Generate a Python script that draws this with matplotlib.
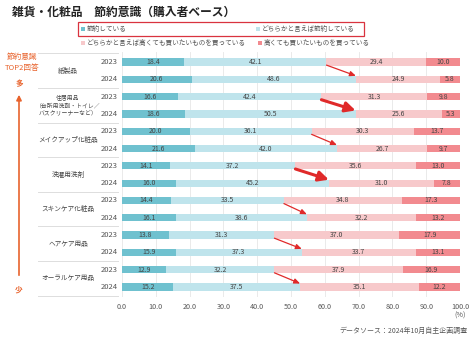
import matplotlib
matplotlib.use("Agg")
import matplotlib.pyplot as plt
from matplotlib.transforms import blended_transform_factory
from matplotlib.patches import Rectangle
import numpy as np

plt.rcParams['font.family'] = ['Noto Sans CJK JP', 'DejaVu Sans']

categories = ["紙製品", "住居用品\n（台所用洗剤・トイレ／\nバスクリーナーなど）", "メイクアップ化粧品",
              "洗濯用洗剤", "スキンケア化粧品", "ヘアケア用品", "オーラルケア用品"]
years = ["2023", "2024"]
series_names = ["節約している", "どちらかと言えば節約している",
                "どちらかと言えば高くても買いたいものを買っている", "高くても買いたいものを買っている"]
# values per category: [2023 row, 2024 row]
setsuyaku = [[18.4, 20.6], [16.6, 18.6], [20.0, 21.6], [14.1, 16.0], [14.4, 16.1], [13.8, 15.9], [12.9, 15.2]]
dochira_setsu = [[42.1, 48.6], [42.4, 50.5], [36.1, 42.0], [37.2, 45.2], [33.5, 38.6], [31.3, 37.3], [32.2, 37.5]]
dochira_takai = [[29.4, 24.9], [31.3, 25.6], [30.3, 26.7], [35.6, 31.0], [34.8, 32.2], [37.0, 33.7], [37.9, 35.1]]
takai = [[10.0, 5.8], [9.8, 5.3], [13.7, 9.7], [13.0, 7.8], [17.3, 13.2], [17.9, 13.1], [16.9, 12.2]]
thick_arrow = [False, True, False, True, False, False, False]
xticks = [0, 10, 20, 30, 40, 50, 60, 70, 80, 90, 100]

colors = ["#6fc1cf", "#bfe4ec", "#f7c9cb", "#f28a8f"]

W, H = 474, 340
fig = plt.figure(figsize=(W / 100, H / 100), dpi=100)

def fx(px):
    return px / W

def fy(py):
    return 1 - py / H

row_top_px, row_bot_px = 62, 287
n_rows = len(categories) * 2
step = (row_bot_px - row_top_px) / (n_rows - 1)
ax_top = row_top_px - 0.6 * step
ax_bot = row_bot_px + 0.6 * step
ax = fig.add_axes([fx(122), fy(ax_bot), fx(460) - fx(122), (ax_bot - ax_top) / H])

data = [setsuyaku, dochira_setsu, dochira_takai, takai]
for ci in range(len(categories)):
    for yi in range(2):
        r = ci * 2 + yi
        left = 0
        for si in range(4):
            v = data[si][ci][yi]
            ax.barh(r, v, left=left, height=0.42, color=colors[si], zorder=2)
            ax.text(left + v / 2, r, f"{v:.1f}", ha="center", va="center",
                    fontsize=5, color="#444444", zorder=3)
            left += v

# red arrows
for ci in range(len(categories)):
    s23 = setsuyaku[ci][0] + dochira_setsu[ci][0]
    s24 = setsuyaku[ci][1] + dochira_setsu[ci][1]
    r23 = ci * 2
    r24 = ci * 2 + 1
    if thick_arrow[ci]:
        props = dict(arrowstyle="-|>,head_length=0.6,head_width=0.3", color="#e02a2a", lw=2.2,
                     shrinkA=0, shrinkB=0)
    else:
        props = dict(arrowstyle="-|>,head_length=0.35,head_width=0.15", color="#e02a2a", lw=0.9,
                     shrinkA=0, shrinkB=0)
    ax.annotate("", xy=(s24, r24 - 0.2), xytext=(s23, r23 + 0.18), arrowprops=props, zorder=4)

ax.set_xlim(0, 100)
ax.set_ylim(n_rows - 1 + 0.6, -0.6)
ax.set_xticks(xticks)
ax.set_xticklabels([f"{t:.1f}" for t in xticks], fontsize=5.2, color="#555555")
ax.tick_params(axis="x", length=0, pad=4)
ax.set_yticks([])
ax.grid(axis="x", color="#e6e6e6", lw=0.6, zorder=0)
for s in ax.spines.values():
    s.set_visible(False)

# year labels, category labels, separators
bt = blended_transform_factory(fig.transFigure, ax.transData)
for ci, cat in enumerate(categories):
    for yi, yr in enumerate(years):
        ax.text(fx(118), ci * 2 + yi, yr, transform=bt, ha="right", va="center",
                fontsize=5.5, color="#555555", clip_on=False)
    fs = 4.2 if "\n" in cat else 4.8
    ax.text(fx(68), ci * 2 + 0.5, cat, transform=bt, ha="center", va="center",
            fontsize=fs, color="#444444", linespacing=1.35, clip_on=False)
for k in range(len(categories) + 1):
    yy = k * 2 - 0.5
    ax.plot([fx(38), fx(118)], [yy, yy], transform=bt, color="#dddddd", lw=0.7, clip_on=False)

# title
fig.text(fx(12), fy(12), "雑貨・化粧品　節約意識（購入者ベース）", fontsize=8.5, fontweight="bold",
         color="#222222", ha="left", va="center")

# legend
fig.patches.append(Rectangle((fx(78), fy(36)), fx(364) - fx(78), (36 - 22) / H,
                             transform=fig.transFigure, fill=False, edgecolor="#d9333f", lw=0.9))
leg_pos = [(83, 29), (258, 29), (83, 43), (260, 43)]
for si, (px, py) in enumerate(leg_pos):
    fig.patches.append(Rectangle((fx(px - 2), fy(py + 2)), 4 / W, 4 / H, transform=fig.transFigure,
                                 facecolor=colors[si], edgecolor="none"))
    fig.text(fx(px + 4), fy(py), series_names[si], fontsize=4.8, color="#555555",
             ha="left", va="center")

# left annotation
orange = "#e8632d"
fig.text(fx(22), fy(57), "節約意識", fontsize=5.5, color=orange, ha="center", va="center")
fig.text(fx(22), fy(68), "TOP2回答", fontsize=5.5, color=orange, ha="center", va="center")
fig.text(fx(19), fy(84), "多", fontsize=5.5, color=orange, ha="center", va="center", fontweight="bold")
fig.text(fx(19), fy(290), "少", fontsize=5.5, color=orange, ha="center", va="center", fontweight="bold")
fig.add_artist(matplotlib.patches.FancyArrowPatch((fx(19), fy(278)), (fx(19), fy(92)),
                                                  transform=fig.transFigure,
                                                  arrowstyle="-|>,head_length=3,head_width=1.5",
                                                  color=orange, lw=1.2, mutation_scale=1))

fig.text(fx(466), fy(316), "(%)", fontsize=5.2, color="#555555", ha="right", va="center")
fig.text(fx(468), fy(331), "データソース：2024年10月自主企画調査", fontsize=5, color="#555555",
         ha="right", va="center")

fig.savefig("out.png", dpi=100)
